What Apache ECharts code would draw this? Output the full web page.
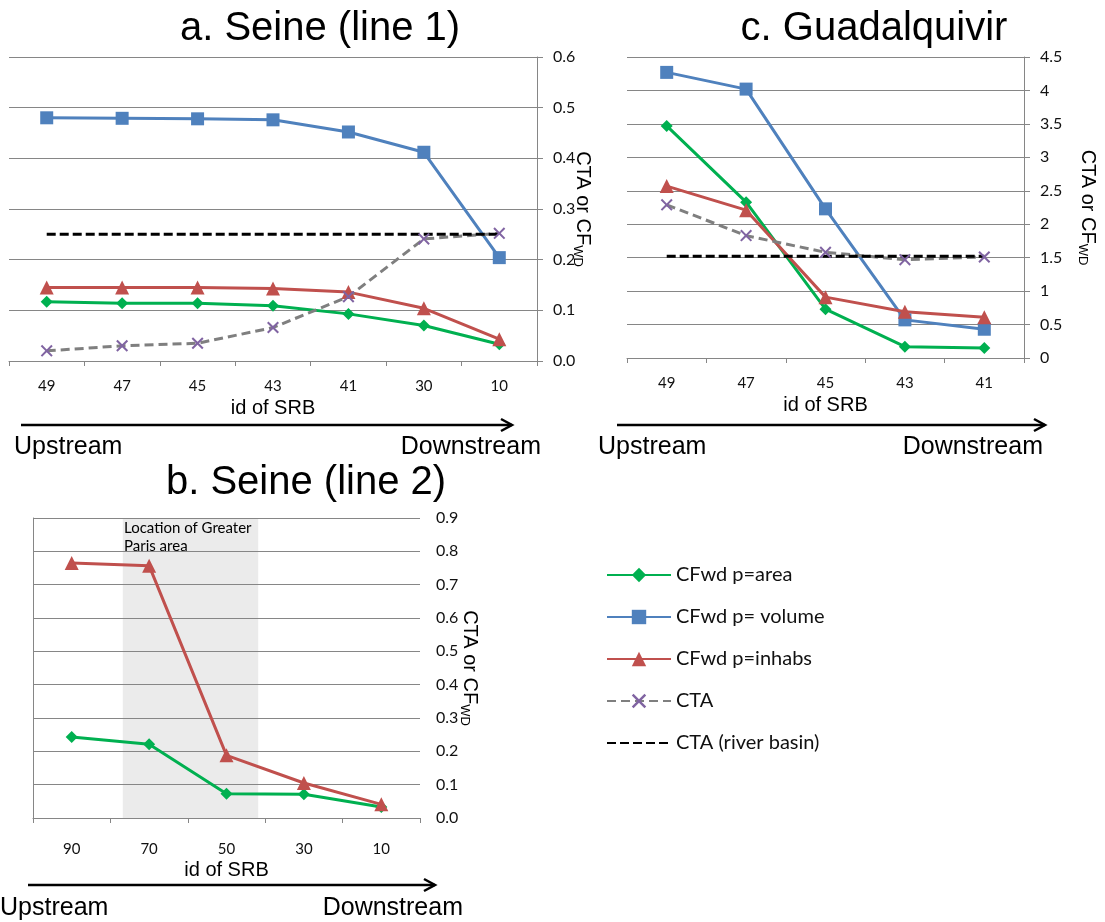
<!DOCTYPE html>
<html>
<head>
<meta charset="utf-8">
<script src="https://cdn.jsdelivr.net/npm/echarts@6/dist/echarts.min.js"></script>
<style>
  html, body { margin: 0; padding: 0; background: #fff; }
  #chart { width: 1105px; height: 922px; }
</style>
</head>
<body>
<div id="chart"></div>
<script>
// Panel a: Seine (line 1)
const seineL1Ids = ['49', '47', '45', '43', '41', '30', '10'];
const seineL1Area = [0.117, 0.114, 0.114, 0.109, 0.093, 0.070, 0.033];
const seineL1Volume = [0.480, 0.479, 0.478, 0.476, 0.452, 0.412, 0.204];
const seineL1Inhabs = [0.145, 0.145, 0.145, 0.143, 0.136, 0.104, 0.043];
const seineL1CTA = [0.020, 0.030, 0.035, 0.066, 0.127, 0.241, 0.252];
const seineL1Basin = [0.25, 0.25, 0.25, 0.25, 0.25, 0.25, 0.25];

// Panel c: Guadalquivir
const guadIds = ['49', '47', '45', '43', '41'];
const guadArea = [3.47, 2.33, 0.73, 0.17, 0.15];
const guadVolume = [4.27, 4.02, 2.23, 0.57, 0.43];
const guadInhabs = [2.57, 2.21, 0.91, 0.69, 0.61];
const guadCTA = [2.29, 1.83, 1.58, 1.47, 1.51];
const guadBasin = [1.52, 1.52, 1.52, 1.52, 1.52];

// Panel b: Seine (line 2)
const seineL2Ids = ['90', '70', '50', '30', '10'];
const seineL2Area = [0.243, 0.221, 0.073, 0.071, 0.033];
const seineL2Inhabs = [0.765, 0.757, 0.188, 0.105, 0.041];
// Greater Paris band, in units of category slots from the left edge
const parisBand = [1.16, 2.91];

const NAMES = ['CFwd p=area', 'CFwd p= volume', 'CFwd p=inhabs', 'CTA', 'CTA (river basin)'];
const GREEN = '#00B050', BLUE = '#4F81BD', RED = '#C0504D', PURPLE = '#8064A2', GREY = '#868686';
const CROSS = 'path://M0,1.2 L1.2,0 L5,3.8 L8.8,0 L10,1.2 L6.2,5 L10,8.8 L8.8,10 L5,6.2 L1.2,10 L0,8.8 L3.8,5 Z';
const TICK_FONT = 'Lato';
const SANS = 'Liberation Sans';

function catAxis(gridIndex, data, nameGap, labelMargin) {
  return {
    type: 'category', gridIndex, data, position: 'bottom', boundaryGap: true,
    name: 'id of SRB', nameLocation: 'middle', nameGap,
    nameTextStyle: { fontFamily: SANS, fontSize: 20, color: '#000' },
    axisLine: { show: true, lineStyle: { color: GREY, width: 1 } },
    axisTick: { show: true, length: 5, lineStyle: { color: GREY } },
    axisLabel: { margin: labelMargin, fontFamily: TICK_FONT, fontSize: 15, color: '#111' },
    splitLine: { show: false }
  };
}

function valAxis(gridIndex, max, interval, decimals, nameGap) {
  return {
    type: 'value', gridIndex, position: 'right', min: 0, max, interval,
    name: 'CTA or CF{sub|WD}', nameLocation: 'middle', nameRotate: -90, nameGap,
    nameMoveOverlap: false,
    nameTextStyle: {
      fontFamily: SANS, fontSize: 20, color: '#000',
      rich: { sub: { fontFamily: SANS, fontSize: 13, color: '#000', padding: [10, 0, 0, 0] } }
    },
    axisLine: { show: true, lineStyle: { color: GREY, width: 1 } },
    axisTick: { show: true, length: 6, lineStyle: { color: GREY } },
    axisLabel: {
      margin: 16, fontFamily: TICK_FONT, fontSize: 16, color: '#111',
      formatter: v => decimals ? v.toFixed(decimals) : String(+v.toFixed(2))
    },
    splitLine: { show: true, lineStyle: { color: GREY, width: 1 } }
  };
}

function lineSeries(kind, xi, yi, data) {
  const base = { type: 'line', xAxisIndex: xi, yAxisIndex: yi, data, showSymbol: true, animation: false };
  if (kind === 0) return Object.assign(base, { name: NAMES[0], symbol: 'diamond', symbolSize: 12,
    itemStyle: { color: GREEN }, lineStyle: { color: GREEN, width: 3 } });
  if (kind === 1) return Object.assign(base, { name: NAMES[1], symbol: 'rect', symbolSize: 13,
    itemStyle: { color: BLUE }, lineStyle: { color: BLUE, width: 3 } });
  if (kind === 2) return Object.assign(base, { name: NAMES[2], symbol: 'triangle', symbolSize: 14,
    itemStyle: { color: RED }, lineStyle: { color: RED, width: 3 } });
  if (kind === 3) return Object.assign(base, { name: NAMES[3], symbol: CROSS, symbolSize: 12,
    itemStyle: { color: PURPLE }, lineStyle: { color: '#7F7F7F', width: 3, type: [9, 5] } });
  return Object.assign(base, { name: NAMES[4], symbol: 'circle', showSymbol: false,
    itemStyle: { color: '#000' }, lineStyle: { color: '#000', width: 3, type: [9, 4] } });
}

function arrow(x1, x2, y) {
  return [
    { type: 'line', shape: { x1, y1: y, x2, y2: y }, style: { stroke: '#000', lineWidth: 2.5 } },
    { type: 'polyline', shape: { points: [[x2 - 11, y - 6], [x2, y], [x2 - 11, y + 6]] },
      style: { stroke: '#000', lineWidth: 2.5, fill: null } }
  ];
}

function txt(text, x, y, size, align, family) {
  return { type: 'text', x, y, z: 100,
    style: { text, fontFamily: family || SANS, fontSize: size, fill: '#000', align: align || 'left', verticalAlign: 'middle' } };
}

const chart = echarts.init(document.getElementById('chart'), null, { renderer: 'canvas' });

chart.setOption({
  backgroundColor: '#fff',
  animation: false,
  grid: [
    { left: 9, top: 57, width: 528, height: 304 },     // a
    { left: 627, top: 57, width: 397, height: 301 },   // c
    { left: 33, top: 518, width: 387, height: 300 }    // b
  ],
  xAxis: [
    catAxis(0, seineL1Ids, 37, 18),
    catAxis(1, guadIds, 37, 18),
    catAxis(2, seineL2Ids, 42, 24),
    { type: 'value', gridIndex: 2, min: 0, max: seineL2Ids.length, show: false }
  ],
  yAxis: [
    valAxis(0, 0.6, 0.1, 1, 34),
    valAxis(1, 4.5, 0.5, 0, 52),
    valAxis(2, 0.9, 0.1, 1, 38)
  ],
  legend: {
    data: NAMES.slice(0, 4).concat([{ name: NAMES[4], itemStyle: { color: 'rgba(0,0,0,0)', borderWidth: 0 } }]),
    orient: 'vertical', left: 601, top: 559,
    itemWidth: 64, itemHeight: 18, itemGap: 20,
    textStyle: { fontFamily: TICK_FONT, fontSize: 20, color: '#111', lineHeight: 22 }
  },
  series: [
    // Greater Paris band behind panel b
    {
      type: 'line', name: 'paris', xAxisIndex: 3, yAxisIndex: 2, data: [], z: -1, silent: true,
      markArea: {
        silent: true, z: -1,
        itemStyle: { color: '#EBEBEB' },
        data: [[{ xAxis: parisBand[0], yAxis: 0.9 }, { xAxis: parisBand[1], yAxis: 0 }]]
      }
    },
    lineSeries(0, 0, 0, seineL1Area),
    lineSeries(1, 0, 0, seineL1Volume),
    lineSeries(2, 0, 0, seineL1Inhabs),
    lineSeries(3, 0, 0, seineL1CTA),
    lineSeries(4, 0, 0, seineL1Basin),
    lineSeries(0, 1, 1, guadArea),
    lineSeries(1, 1, 1, guadVolume),
    lineSeries(2, 1, 1, guadInhabs),
    lineSeries(3, 1, 1, guadCTA),
    lineSeries(4, 1, 1, guadBasin),
    lineSeries(0, 2, 2, seineL2Area),
    lineSeries(2, 2, 2, seineL2Inhabs)
  ],
  graphic: [
    txt('a. Seine (line 1)', 320, 29, 40, 'center'),
    txt('c. Guadalquivir', 874, 29, 40, 'center'),
    txt('b. Seine (line 2)', 306, 483, 40, 'center'),
    txt('Location of Greater', 124, 528, 15, 'left', TICK_FONT),
    txt('Paris area', 124, 546, 15, 'left', TICK_FONT),
    ...arrow(21, 512, 425),
    ...arrow(617, 1045, 425),
    ...arrow(28, 435, 885),
    txt('Upstream', 14, 447, 25),
    txt('Downstream', 541, 447, 25, 'right'),
    txt('Upstream', 598, 447, 25),
    txt('Downstream', 1043, 447, 25, 'right'),
    txt('Upstream', 0, 908, 25),
    txt('Downstream', 463, 908, 25, 'right')
  ]
});
</script>
</body>
</html>
